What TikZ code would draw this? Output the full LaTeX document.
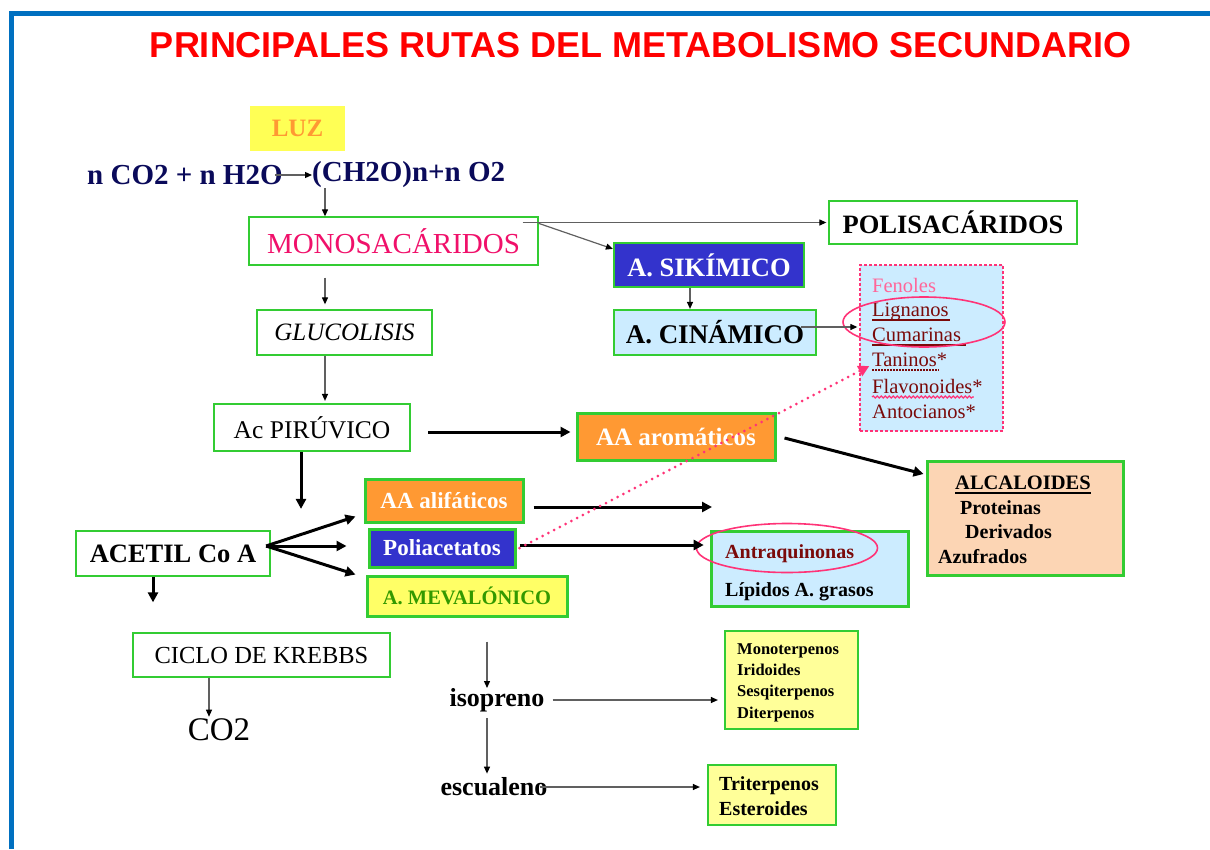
\documentclass[tikz,border=0pt]{standalone}
\usepackage{fontspec}
\setmainfont{Liberation Serif}
\newfontfamily\arialf{Liberation Sans}
\usetikzlibrary{arrows.meta,shapes.geometric,decorations.pathmorphing}
\definecolor{gborder}{HTML}{33CC33}
\definecolor{frameblue}{HTML}{0070C0}
\definecolor{navy}{HTML}{0A0A5A}
\definecolor{luzyellow}{HTML}{FFFF55}
\definecolor{luzorange}{HTML}{FF9933}
\definecolor{monopink}{HTML}{F0106A}
\definecolor{sikblue}{HTML}{3333CC}
\definecolor{lightblue}{HTML}{CCECFF}
\definecolor{aaorange}{HTML}{FF9933}
\definecolor{peach}{HTML}{FCD5B4}
\definecolor{mevayellow}{HTML}{FFFF66}
\definecolor{terpyellow}{HTML}{FFFF99}
\definecolor{mevagreen}{HTML}{339900}
\definecolor{pinkc}{HTML}{FF3377}
\definecolor{fenpink}{HTML}{FF6699}
\definecolor{maroon}{HTML}{7A0A0A}
\newcommand\fsz[1]{\fontsize{#1}{\dimexpr#1pt*6/5\relax}\selectfont}
\tikzset{
  gbox/.style={draw=gborder, line width=1.3pt, inner sep=0pt, align=center},
  gboxmid/.style={gbox, line width=2.2pt},
  gboxthick/.style={gbox, line width=3pt},
  tarrow/.style={draw=gray!75!black, line width=1.2pt, -{Triangle[length=7pt,width=6pt,color=black]}},
  barrow/.style={draw=black, line width=3pt, -{Triangle[length=10pt,width=10pt]}},
  dotarrow/.style={draw=pinkc, line width=3pt, dash pattern=on 0pt off 6.5pt, line cap=round, -{Triangle[length=11pt,width=11pt,color=pinkc]}},
  pinkell/.style={ellipse, draw=pinkc, line width=1.6pt, inner sep=0pt},
  lbl/.style={inner sep=0pt, anchor=base west},
}
\begin{document}
\begin{tikzpicture}[x=1pt,y=-1pt]
\useasboundingbox (0,0) rectangle (1210,849);
% frame
\draw[frameblue, line width=5pt] (11,849) -- (11,13) -- (1210,13);
% title
\node[font=\arialf\bfseries\fsz{36}, text=red, inner sep=0pt] (title) at (641,45) {PRINCIPALES RUTAS DEL METABOLISMO SECUNDARIO};

% top
\node[fill=luzyellow, minimum width=95, minimum height=45, inner sep=0pt, text=luzorange, font=\bfseries\fsz{25}] (luz) at (297.5,128.5) {LUZ\hspace{14pt}};
\node[anchor=west, inner sep=0pt, text=navy, font=\bfseries\fsz{29}] (eqL) at (87,175) {n CO2 + n H2O};
\node[anchor=west, inner sep=0pt, text=navy, font=\bfseries\fsz{29}] (eqR) at (312,175) {(CH2O)n+n O2};
\draw[tarrow] ([xshift=-8pt]eqL.east) -- (eqR.west);

\coordinate (colA) at (325,0);
\coordinate (colS) at (690,0);
\coordinate (colP) at (301,0);
\coordinate (colI) at (487,0);

\node[gbox, minimum width=289, minimum height=48, text=monopink, font=\fsz{29}] (mono) at (393.5,241) {MONOSAC\'ARIDOS};
\node[gbox, minimum width=248, minimum height=43, font=\bfseries\fsz{26.5}] (poli) at (953,222.5) {POLISAC\'ARIDOS};
\node[gboxmid, fill=sikblue, minimum width=190, minimum height=44, text=white, font=\bfseries\fsz{26.5}] (sik) at (709,265) {A. SIK\'IMICO};
\node[gboxmid, fill=lightblue, minimum width=202, minimum height=45, font=\bfseries\fsz{27}] (cin) at (715,332.5) {A. CIN\'AMICO};
\node[gbox, minimum width=175, minimum height=45, font=\itshape\fsz{25}] (gluc) at (344.5,332.5) {GLUCOLISIS};
\node[gboxmid, minimum width=196, minimum height=47, font=\fsz{25.5}] (piru) at (312,427.5) {Ac PIR\'UVICO};
\node[gboxthick, fill=aaorange, minimum width=198, minimum height=47, text=white, font=\bfseries\fsz{25}] (arom) at (676,436.5) {AA arom\'aticos};
\node[gboxthick, fill=peach, minimum width=196, minimum height=114] (alca) at (1025,518) {};
\node[gboxmid, minimum width=194, minimum height=45, font=\bfseries\fsz{26.5}] (acet) at (173,553.5) {ACETIL Co A};
\node[gboxthick, fill=aaorange, minimum width=158, minimum height=43, text=white, font=\bfseries\fsz{23}] (alif) at (444,500.5) {AA alif\'aticos};
\node[gboxthick, fill=sikblue, minimum width=146, minimum height=38, text=white, font=\bfseries\fsz{23}] (poliac) at (442,548) {Poliacetatos};
\node[gboxthick, fill=mevayellow, minimum width=200, minimum height=40, text=mevagreen, font=\bfseries\fsz{20.5}] (meva) at (467,596) {A. MEVAL\'ONICO};
\node[gboxthick, fill=lightblue, minimum width=197, minimum height=75] (antr) at (809.5,568.5) {};
\node[gbox, minimum width=257, minimum height=44, font=\fsz{24.5}] (krebs) at (261.5,655) {CICLO DE KREBBS};
\node[inner sep=0pt, font=\fsz{33}] (co2) at (219,730) {CO2};
\node[gboxmid, fill=terpyellow, minimum width=133, minimum height=98] (terp) at (791.5,680) {};
\node[gboxmid, fill=terpyellow, minimum width=128, minimum height=60] (trit) at (772,795) {};
\node[inner sep=0pt, font=\bfseries\fsz{26}] (iso) at (497,700) {isopreno};
\node[inner sep=0pt, font=\bfseries\fsz{26}] (escu) at (494,787) {escualeno};

% fenoles box
\node[draw=pinkc, fill=lightblue, line width=1.3pt, dash pattern=on 3pt off 2pt, minimum width=143, minimum height=166, inner sep=0pt] (fen) at (931.5,348) {};
\node[lbl, text=fenpink, font=\fsz{20.5}] (f1) at (872,292) {Fenoles};
\node[lbl, text=maroon, font=\fsz{20.5}] (f2) at (872,316) {Lignanos};
\node[lbl, text=maroon, font=\fsz{20.5}] (f3) at (872,341) {Cumarinas};
\node[lbl, text=maroon, font=\fsz{20.5}] (f4) at (872,366) {Taninos*};
\node[lbl, text=maroon, font=\fsz{20.5}] (f5) at (872,393) {Flavonoides*};
\node[lbl, text=maroon, font=\fsz{20.5}] (f6) at (872,418) {Antocianos*};
\draw[maroon, line width=1.3pt] ([yshift=-4pt]f2.base west) -- ([yshift=-4pt,xshift=1pt]f2.base east);
\draw[maroon, line width=2pt] ([yshift=-4pt]f3.base west) -- ([yshift=-4pt,xshift=5pt]f3.base east);
\draw[maroon, line width=1.3pt, dash pattern=on 1.5pt off 1.5pt] ([yshift=-4pt]f4.base west) -- ([yshift=-4pt,xshift=-9pt]f4.base east);
\draw[pinkc, line width=1.2pt, decorate, decoration={snake, amplitude=1pt, segment length=4pt}] ([yshift=-4pt]f5.base west) -- ([yshift=-4pt,xshift=-9pt]f5.base east);
\node[pinkell, minimum width=162, minimum height=50] (ell1) at (924,322) {};

% alcaloides text
\node[lbl, font=\bfseries\fsz{20.5}] (al1) at (955,489) {ALCALOIDES};
\draw[black, line width=1.3pt] ([yshift=-4pt]al1.base west) -- ([yshift=-4pt]al1.base east);
\node[lbl, font=\bfseries\fsz{20}] (al2) at (960,514) {Proteinas};
\node[lbl, font=\bfseries\fsz{20}] (al3) at (965,538) {Derivados};
\node[lbl, font=\bfseries\fsz{20}] (al4) at (938,563) {Azufrados};

% antraquinonas text
\node[lbl, text=maroon, font=\bfseries\fsz{20}] (an1) at (725,558) {Antraquinonas};
\node[lbl, font=\bfseries\fsz{20}] (an2) at (725,596) {L\'ipidos A. grasos};
\node[pinkell, minimum width=181, minimum height=49] (ell2) at (787,548) {};

% terpenos text
\node[lbl, font=\bfseries\fsz{16.5}] (t1) at (737,654) {Monoterpenos};
\node[lbl, font=\bfseries\fsz{16.5}] (t2) at (737,675) {Iridoides};
\node[lbl, font=\bfseries\fsz{16.5}] (t3) at (737,696) {Sesqiterpenos};
\node[lbl, font=\bfseries\fsz{16.5}] (t4) at (737,718) {Diterpenos};
\node[lbl, font=\bfseries\fsz{20}] (tr1) at (719,790) {Triterpenos};
\node[lbl, font=\bfseries\fsz{20}] (tr2) at (719,815) {Esteroides};

% connectors
\draw[tarrow] (eqR.south -| colA) -- (mono.north -| colA);
\draw[tarrow] ([xshift=-16pt]mono.east |- poli.west) -- ([xshift=-2pt]poli.west);
\draw[tarrow] ([yshift=-7pt]mono.north east) -- ([yshift=-7pt]sik.north west);
\draw[tarrow] (sik.south -| colS) -- (cin.north -| colS);
\draw[tarrow] ([xshift=-16pt,yshift=5.5pt]cin.east) -- ([xshift=-2pt,yshift=5.5pt]cin.east -| fen.west);
\draw[tarrow, shorten <=12pt, shorten >=5pt] (mono.south -| colA) -- (gluc.north -| colA);
\draw[tarrow, shorten >=2pt] (gluc.south -| colA) -- (piru.north -| colA);
\draw[barrow, shorten <=17pt, shorten >=5pt] ([yshift=-4.5pt]piru.east) -- ([yshift=-4.5pt]piru.east -| arom.west);
\draw[barrow, shorten >=2pt] ([xshift=8pt,yshift=-1.5pt]arom.east) -- ([yshift=-15pt]alca.north west);
\draw[barrow, shorten >=21pt] (piru.south -| colP) -- (acet.north -| colP);
\draw[barrow] ([shift={(-5pt,7.5pt)}]acet.east) -- ([shift={(-8pt,7pt)}]alif.south west);
\draw[barrow] ([shift={(-5pt,7.5pt)}]acet.east) -- ([shift={(-21pt,2pt)}]poliac.west);
\draw[barrow] ([shift={(-5pt,7.5pt)}]acet.east) -- ([xshift=-10pt]meva.north west);
\coordinate (alifend) at (712,507);
\draw[barrow] ([shift={(9pt,-6.5pt)}]alif.east) -- (alifend);
\draw[barrow] ([shift={(3pt,3pt)}]poliac.east) -- ([shift={(8pt,3pt)}]poliac.east -| ell2.west);
\draw[dotarrow] ([xshift=3pt]poliac.east) -- ([shift={(10pt,-18pt)}]fen.west);
\coordinate (colK) at (153,0);
\draw[barrow, shorten >=30pt] (acet.south -| colK) -- (krebs.north -| colK);
\coordinate (colC) at (209,0);
\draw[tarrow, shorten >=2pt] (krebs.south -| colC) -- (co2.north -| colC);
\draw[tarrow, shorten <=24pt] (meva.south -| colI) -- (iso.north -| colI);
\draw[tarrow, shorten <=8pt, shorten >=6pt] (iso.east) -- (terp.west |- iso.east);
\draw[tarrow, shorten <=6pt, shorten >=4pt] (iso.south -| colI) -- (escu.north -| colI);
\draw[tarrow, shorten <=-8pt, shorten >=7pt] (escu.east) -- (trit.west |- escu.east);
\end{tikzpicture}
\end{document}
